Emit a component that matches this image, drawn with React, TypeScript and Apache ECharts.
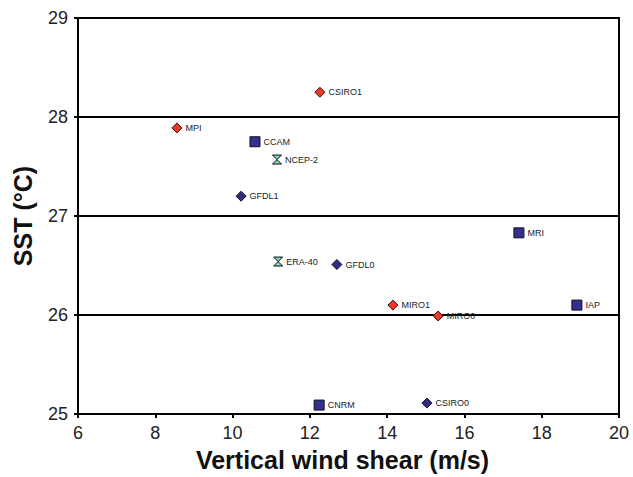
import React, { useEffect, useRef } from "react";
import * as echarts from "echarts";

const modelNames = ["CSIRO1", "MPI", "CCAM", "NCEP-2", "GFDL1", "MRI", "ERA-40", "GFDL0", "MIRO1", "MIRO0", "IAP", "CNRM", "CSIRO0"];
const windShear = [12.26, 8.56, 10.58, 11.15, 10.22, 17.41, 11.18, 12.7, 14.15, 15.32, 18.91, 12.24, 15.03];
const sst = [28.25, 27.89, 27.75, 27.57, 27.2, 26.83, 26.54, 26.51, 26.1, 25.99, 26.1, 25.09, 25.11];
const groups = ["red", "red", "square", "hour", "blue", "square", "hour", "blue", "red", "red", "square", "square", "blue"];
const xTicks = [6, 8, 10, 12, 14, 16, 18, 20];
const yTicks = [25, 26, 27, 28, 29];

const HOURGLASS = "path://M0,0 L10,0 L5,5 L10,10 L0,10 L5,5 Z";

export default function App() {
  const ref = useRef<HTMLDivElement>(null);
  useEffect(() => {
    document.body.style.margin = "0";
    const chart = echarts.init(ref.current!, null, { renderer: "svg" });
    const pick = (g: string) =>
      modelNames
        .map((n, i) => ({ n, i }))
        .filter((d) => groups[d.i] === g)
        .map((d) => ({ value: [windShear[d.i], sst[d.i]], name: d.n }));
    const label = {
      show: true,
      position: "right" as const,
      distance: 3,
      formatter: (p: any) => p.name,
      fontFamily: "Liberation Sans, Arial, sans-serif",
      fontSize: 9,
      color: "#222",
    };
    const mk = (g: string, symbol: string, size: number, color: string, border: string) => ({
      type: "scatter",
      data: pick(g),
      symbol,
      symbolSize: size,
      itemStyle: { color, borderColor: border, borderWidth: 1, opacity: 1 },
      label,
    });
    chart.setOption({
      animation: false,
      backgroundColor: "#fff",
      textStyle: { fontFamily: "Liberation Sans, Arial, sans-serif" },
      grid: {
        left: 78,
        right: 14,
        top: 18,
        bottom: 62,
        show: true,
        borderColor: "#000",
        borderWidth: 2,
      },
      xAxis: {
        type: "value",
        min: xTicks[0],
        max: xTicks[xTicks.length - 1],
        interval: 2,
        name: "Vertical wind shear (m/s)",
        nameLocation: "middle",
        nameGap: 33,
        nameTextStyle: { fontSize: 25, fontWeight: "bold", color: "#111", padding: [0, 12, 0, 0] },
        axisLine: { show: true, lineStyle: { color: "#000", width: 2 } },
        axisTick: { show: true, inside: false, length: 4, lineStyle: { color: "#000", width: 2 } },
        axisLabel: { fontSize: 18, color: "#222", margin: 10 },
        splitLine: { show: false },
      },
      yAxis: {
        type: "value",
        min: yTicks[0],
        max: yTicks[yTicks.length - 1],
        interval: 1,
        name: "SST (°C)",
        nameLocation: "middle",
        nameGap: 43,
        nameTextStyle: { fontSize: 25, fontWeight: "bold", color: "#111" },
        axisLine: { show: true, lineStyle: { color: "#000", width: 2 } },
        axisTick: { show: true, inside: false, length: 4, lineStyle: { color: "#000", width: 2 } },
        axisLabel: { fontSize: 18, color: "#222", margin: 10 },
        splitLine: { show: true, lineStyle: { color: "#000", width: 2 } },
      },
      series: [
        mk("red", "diamond", 10, "#e8392b", "#3a0a0a"),
        mk("blue", "diamond", 10, "#332c86", "#111"),
        mk("square", "rect", 10, "#352f8f", "#111"),
        mk("hour", HOURGLASS, 9, "#7fd4c8", "#111"),
      ],
    });
    return () => chart.dispose();
  }, []);
  return <div ref={ref} style={{ position: "absolute", left: 0, top: 0, width: 633, height: 477 }} />;
}
